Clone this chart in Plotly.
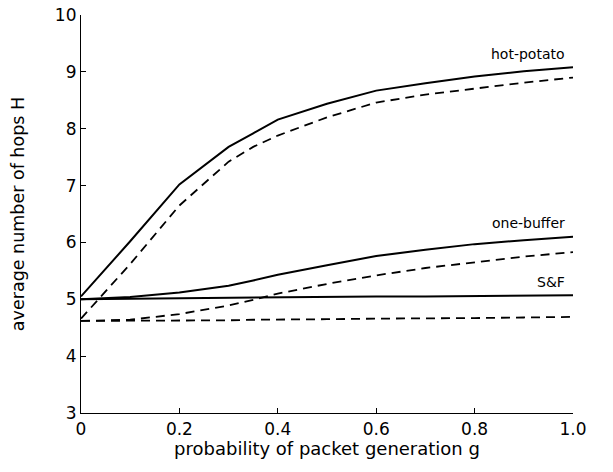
import plotly.graph_objects as go

g = [0.0, 0.1, 0.2, 0.3, 0.35, 0.4, 0.5, 0.6, 0.7, 0.8, 0.9, 1.0]

hot_potato_solid = [5.05, 6.02, 7.02, 7.68, 7.92, 8.16, 8.44, 8.67, 8.80, 8.92, 9.01, 9.08]
hot_potato_dash = [4.66, 5.62, 6.65, 7.42, 7.68, 7.88, 8.20, 8.46, 8.60, 8.71, 8.81, 8.90]
one_buffer_solid = [5.00, 5.04, 5.12, 5.24, 5.33, 5.43, 5.60, 5.76, 5.87, 5.97, 6.04, 6.10]
one_buffer_dash = [4.62, 4.64, 4.74, 4.89, 4.99, 5.10, 5.27, 5.42, 5.55, 5.65, 5.75, 5.83]
sf_solid = [5.00, 5.01, 5.02, 5.03, 5.03, 5.04, 5.04, 5.05, 5.05, 5.06, 5.06, 5.07]
sf_dash = [4.62, 4.62, 4.63, 4.63, 4.64, 4.64, 4.65, 4.66, 4.66, 4.67, 4.68, 4.69]

labels = ["hot-potato", "one-buffer", "S&F"]
label_y = [9.32, 6.34, 5.3]

x_ticks = [0, 0.2, 0.4, 0.6, 0.8, 1.0]
x_ticktext = ["0", "0.2", "0.4", "0.6", "0.8", "1.0"]
y_ticks = [3, 4, 5, 6, 7, 8, 9, 10]

FONT = "DejaVu Sans"
fig = go.Figure()
for ys, dash in [(hot_potato_solid, "solid"), (hot_potato_dash, "9px,6px"),
                 (one_buffer_solid, "solid"), (one_buffer_dash, "9px,6px"),
                 (sf_solid, "solid"), (sf_dash, "9px,6px")]:
    fig.add_trace(go.Scatter(x=g, y=ys, mode="lines",
                             line=dict(color="black", width=2 if dash == "solid" else 1.8, dash=dash),
                             showlegend=False, hoverinfo="skip"))

for t, yy in zip(labels, label_y):
    fig.add_annotation(x=0.988, y=yy, text=t, showarrow=False, xanchor="right",
                       yanchor="middle", font=dict(family=FONT, size=14, color="black"))

fig.update_layout(
    width=613, height=472,
    margin=dict(l=81, r=40, t=15, b=59),
    paper_bgcolor="white", plot_bgcolor="white",
    font=dict(family=FONT, size=18, color="black"),
    xaxis=dict(range=[0, 1.0], tickvals=x_ticks, ticktext=x_ticktext,
               ticks="inside", ticklen=5, tickcolor="black", showline=True,
               linecolor="black", linewidth=1.2, showgrid=False, zeroline=False,
               automargin=False,
               title=dict(text="probability of packet generation g", standoff=4,
                          font=dict(family=FONT, size=18)),
               tickfont=dict(family=FONT, size=17)),
    yaxis=dict(range=[3, 10], tickvals=y_ticks, ticks="inside", ticklen=5,
               tickcolor="black", showline=True, linecolor="black", linewidth=1.2,
               showgrid=False, zeroline=False, automargin=False,
               title=dict(text="average number of hops H", standoff=25,
                          font=dict(family=FONT, size=17.5)),
               tickfont=dict(family=FONT, size=17)),
)

fig.write_html("out.html", config={"displayModeBar": False},
               post_script="document.body.style.margin='0';")
